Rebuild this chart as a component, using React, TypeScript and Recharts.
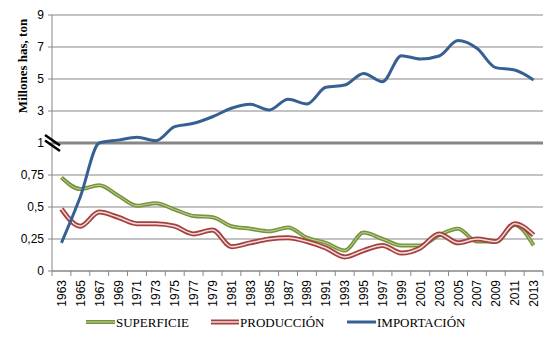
import { LineChart, Line, XAxis, YAxis, CartesianGrid, ReferenceLine } from "recharts";

const years = [
  "1963", "1965", "1967", "1969", "1971", "1973", "1975", "1977", "1979", "1981",
  "1983", "1985", "1987", "1989", "1991", "1993", "1995", "1997", "1999", "2001",
  "2003", "2005", "2007", "2009", "2011", "2013",
];

const superficie = [
  0.73, 0.64, 0.67, 0.59, 0.51, 0.53, 0.48, 0.43, 0.42, 0.35,
  0.33, 0.31, 0.34, 0.26, 0.22, 0.16, 0.3, 0.25, 0.2, 0.2,
  0.28, 0.33, 0.23, 0.23, 0.36, 0.2,
];

const produccion = [
  0.485, 0.35, 0.46, 0.42, 0.37, 0.37, 0.35, 0.29, 0.32, 0.19,
  0.22, 0.25, 0.26, 0.23, 0.18, 0.11, 0.16, 0.2, 0.14, 0.18,
  0.29, 0.22, 0.25, 0.23, 0.37, 0.28,
];

const importacion = [
  0.22, 0.58, 1.0, 1.18, 1.36, 1.14, 2.02, 2.23, 2.64, 3.17,
  3.42, 3.06, 3.73, 3.44, 4.48, 4.62, 5.35, 4.83, 6.46, 6.25,
  6.44, 7.4, 6.92, 5.71, 5.56, 4.94,
];

const tickLabels = ["0", "0,25", "0,5", "0,75", "1", "3", "5", "7", "9"];

// broken axis: 0..1 on the lower four steps, 1..9 on the upper four
const toAxis = (v: number) => (v <= 1 ? v * 4 : 4 + (v - 1) / 2);

const data = years.map((year, i) => ({
  year,
  sup: toAxis(superficie[i]),
  prod: toAxis(produccion[i]),
  imp: toAxis(importacion[i]),
}));

const GRAY = "#868686";
const BAND = 491 / years.length;

const XTick = (props: any) => {
  const { x, y, payload, index } = props;
  return (
    <g>
      <line x1={x - BAND / 2} y1={y} x2={x - BAND / 2} y2={y + 5} stroke={GRAY} />
      {index === years.length - 1 && (
        <line x1={x + BAND / 2} y1={y} x2={x + BAND / 2} y2={y + 5} stroke={GRAY} />
      )}
      <text
        transform={`translate(${x + 4.5},${y + 9}) rotate(-90)`}
        textAnchor="end"
        fontSize={12}
        fontFamily="Liberation Sans, Arial, sans-serif"
        fill="#000"
      >
        {payload.value}
      </text>
    </g>
  );
};

export default function App() {
  return (
    <div style={{ position: "absolute", left: 0, top: 0, width: 550, height: 342, background: "#fff" }}>
      <LineChart width={550} height={342} data={data} margin={{ top: 15, right: 7, left: 0, bottom: 0 }}>
        <CartesianGrid horizontal vertical={false} stroke={GRAY} strokeWidth={1} />
        <XAxis
          dataKey="year"
          interval={0}
          height={71}
          stroke={GRAY}
          tickSize={0}
          tickMargin={0}
          padding={{ left: BAND / 2, right: BAND / 2 }}
          tick={<XTick />}
        />
        <YAxis
          type="number"
          domain={[0, 8]}
          ticks={[0, 1, 2, 3, 4, 5, 6, 7, 8]}
          tickFormatter={(v: number) => tickLabels[v]}
          width={52}
          stroke={GRAY}
          tickSize={4}
          tickMargin={4}
          tick={{ fill: "#000", fontSize: 12, fontFamily: "Liberation Sans, Arial, sans-serif" }}
        />
        <ReferenceLine y={4} stroke={GRAY} strokeWidth={3} />
        <Line type="monotone" dataKey="sup" stroke="#77933C" strokeWidth={4} dot={false} isAnimationActive={false} />
        <Line type="monotone" dataKey="sup" stroke="#C3D69B" strokeWidth={1} dot={false} isAnimationActive={false} />
        <Line type="monotone" dataKey="prod" stroke="#A4403E" strokeWidth={5} dot={false} isAnimationActive={false} />
        <Line type="monotone" dataKey="prod" stroke="#F2DCDB" strokeWidth={1.5} dot={false} isAnimationActive={false} />
        <Line type="monotone" dataKey="imp" stroke="#376092" strokeWidth={3} dot={false} isAnimationActive={false} />
      </LineChart>
      <svg
        width={550}
        height={342}
        style={{ position: "absolute", left: 0, top: 0, pointerEvents: "none" }}
      >
        {/* axis break marks */}
        <line x1={45} y1={135} x2={60} y2={145.5} stroke="#000" strokeWidth={2.5} />
        <line x1={45} y1={140.5} x2={60} y2={151} stroke="#000" strokeWidth={2.5} />
        <text
          transform="translate(27,66) rotate(-90)"
          textAnchor="middle"
          fontSize={13}
          fontWeight="bold"
          fontFamily="Liberation Serif, Times New Roman, serif"
        >
          Millones has, ton
        </text>
        {/* legend */}
        <g fontFamily="Liberation Serif, Times New Roman, serif" fontSize={13} fill="#000">
          <line x1={86} y1={322} x2={115} y2={322} stroke="#77933C" strokeWidth={4} />
          <line x1={86} y1={322} x2={115} y2={322} stroke="#C3D69B" strokeWidth={1} />
          <text x={116} y={326.5}>SUPERFICIE</text>
          <line x1={211} y1={322} x2={239} y2={322} stroke="#A4403E" strokeWidth={5} />
          <line x1={211} y1={322} x2={239} y2={322} stroke="#F2DCDB" strokeWidth={1.5} />
          <text x={240} y={326.5}>PRODUCCIÓN</text>
          <line x1={347} y1={322} x2={376} y2={322} stroke="#376092" strokeWidth={3} />
          <text x={377} y={326.5}>IMPORTACIÓN</text>
        </g>
      </svg>
    </div>
  );
}
